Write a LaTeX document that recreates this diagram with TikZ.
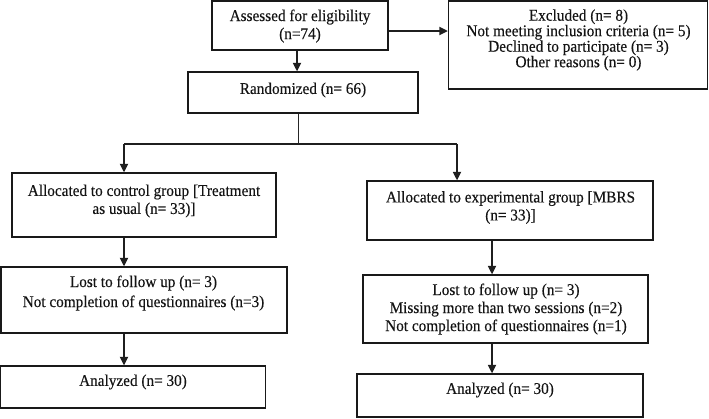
\documentclass[tikz,border=0pt]{standalone}
\usepackage{fontspec}
\setmainfont[FakeStretch=0.93,FakeBold=0.3]{Liberation Serif}
\usetikzlibrary{arrows.meta}
\begin{document}
\begin{tikzpicture}[x=1pt,y=1pt]
\tikzset{
 box/.style={draw=black!90, line width=1.3pt, inner sep=0pt},
 txt/.style={align=center, font=\fontsize{16.4}{18}\selectfont, text=black!92, inner sep=0pt},
 arr/.style={line width=1.7pt, draw=black!88, -{Triangle[length=8.5pt,width=8pt]}},
 thinline/.style={line width=0.8pt, draw=black!85},
 hline/.style={line width=1.1pt, draw=black!88}
}
\useasboundingbox (0,0) rectangle (709,-418);
% boxes
\node[box, minimum width=176, minimum height=49] (assess) at (300,-25.5) {};
\node[box, minimum width=259, minimum height=88] (excl) at (578,-45) {};
\node[box, minimum width=230, minimum height=41] (rand) at (303,-92.5) {};
\node[box, minimum width=264, minimum height=64] (ctrl) at (144,-205) {};
\node[box, minimum width=286, minimum height=59] (expt) at (510,-210.5) {};
\node[box, minimum width=286, minimum height=66] (lostL) at (144,-300) {};
\node[box, minimum width=285, minimum height=68] (lostR) at (505.5,-309) {};
\node[box, minimum width=265, minimum height=42] (anL) at (133,-387) {};
\node[box, minimum width=286, minimum height=43] (anR) at (500,-395.5) {};
% texts
\node[txt] (assesst) at (300,-26) {Assessed for eligibility\\(n=74)};
\node[txt, font=\fontsize{16.4}{15.5}\selectfont] (exclt) at (578.5,-40) {Excluded (n= 8)\\Not meeting inclusion criteria (n= 5)\\Declined to participate (n= 3)\\Other reasons (n= 0)};
\node[txt] (randt) at (303,-90) {Randomized (n= 66)};
\node[txt] (ctrlt) at (144,-201) {Allocated to control group [Treatment\\as usual (n= 33)]};
\node[txt] (exptt) at (510.5,-207.5) {Allocated to experimental group [MBRS\\(n= 33)]};
\node[txt, font=\fontsize{16.4}{20}\selectfont] (lostLt) at (143.5,-293) {Lost to follow up (n= 3)\\Not completion of questionnaires (n=3)};
\node[txt] (lostRt) at (506,-309) {Lost to follow up (n= 3)\\Missing more than two sessions (n=2)\\Not completion of questionnaires (n=1)};
\node[txt] (anLt) at (133,-382) {Analyzed (n= 30)};
\node[txt] (anRt) at (500,-390) {Analyzed (n= 30)};
% connectors
\coordinate (split) at (298,-144);
\coordinate (cl) at (124,-144);
\coordinate (cr) at (457,-144);
\coordinate (rx) at (492,0);
\draw[arr] ([yshift=-5.5]assess.east) -- ([yshift=-5.5]assess.east -| excl.west);
\draw[arr] ([xshift=-3]assess.south) -- ([xshift=-3]assess.south |- rand.north);
\draw[thinline] (split |- rand.south) -- (split);
\draw[hline] (cl) -- (cr);
\draw[arr] (cl) -- (cl |- ctrl.north);
\draw[arr] (cr) -- (cr |- expt.north);
\draw[arr] (ctrl.south -| cl) -- (cl |- lostL.north);
\draw[arr] (expt.south -| rx) -- (rx |- lostR.north);
\draw[arr] (lostL.south -| cl) -- (cl |- anL.north);
\draw[arr] (lostR.south -| rx) -- (rx |- anR.north);
\end{tikzpicture}
\end{document}
